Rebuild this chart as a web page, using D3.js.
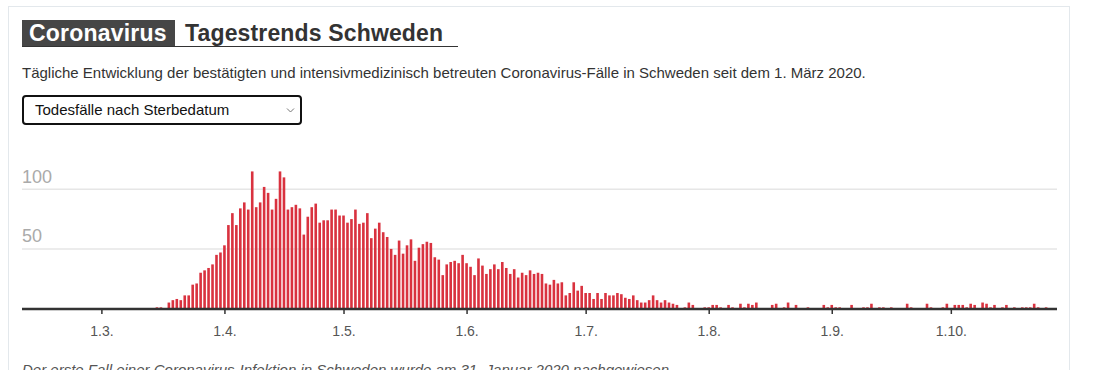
<!DOCTYPE html>
<html>
<head>
<meta charset="utf-8">
<title>Coronavirus Tagestrends Schweden</title>
<script src="https://cdnjs.cloudflare.com/ajax/libs/d3/7.8.5/d3.min.js"></script>
<style>
	html, body { margin: 0; padding: 0; background: #fff; }
	svg { display: block; font-family: "Liberation Sans", Arial, sans-serif; }
</style>
</head>
<body>
<div id="chart"></div>
<script>
(function () {
'use strict';

// first day with a value in the series (1. März 2020 is the first tick)
var firstDay = Date.UTC(2020, 2, 15);

// Todesfälle nach Sterbedatum, one value per day from 15.3.
var deaths = [
	1, 1, 0, 5, 7, 8, 7, 11, 11, 20, 21, 30, 32, 34, 37, 45, 47,          // 15.3. - 31.3.
	53, 70, 80, 70, 84, 89, 83, 115, 85, 89, 102, 97, 83, 92, 115,        // 1.4. - 15.4.
	110, 83, 85, 87, 84, 62, 77, 85, 88, 72, 74, 74, 83, 83, 78,          // 16.4. - 30.4.
	78, 72, 75, 83, 71, 72, 80, 59, 67, 72, 64, 60, 50, 45, 57,           // 1.5. - 15.5.
	46, 53, 58, 40, 51, 54, 56, 55, 43, 41, 28, 37, 39, 40, 38, 45,       // 16.5. - 31.5.
	38, 35, 28, 42, 36, 29, 33, 37, 33, 39, 34, 29, 33, 26, 30,           // 1.6. - 15.6.
	28, 32, 29, 30, 29, 21, 20, 24, 21, 22, 11, 13, 22, 15, 19,           // 16.6. - 30.6.
	13, 13, 8, 13, 8, 13, 11, 11, 13, 12, 9, 8, 11, 7, 5,                 // 1.7. - 15.7.
	5, 7, 11, 7, 5, 7, 5, 4, 3, 0, 1, 5, 3, 0, 0, 1,                      // 16.7. - 31.7.
	1, 3, 3, 1, 0, 3, 1, 0, 4, 1, 4, 3, 5, 0, 0,                          // 1.8. - 15.8.
	0, 3, 4, 0, 1, 5, 0, 3, 0, 0, 1, 0, 0, 0, 3, 1,                       // 16.8. - 31.8.
	3, 1, 1, 0, 0, 3, 0, 0, 1, 1, 4, 0, 1, 1, 0,                          // 1.9. - 15.9.
	1, 0, 0, 0, 4, 1, 0, 0, 0, 4, 1, 0, 0, 1, 4,                          // 16.9. - 30.9.
	0, 3, 3, 3, 1, 4, 3, 0, 5, 4, 1, 3, 0, 1, 3,                          // 1.10. - 15.10.
	0, 1, 0, 1, 1, 1, 4, 1, 0, 1                                          // 16.10. - 25.10.
];

var tickDates = [
	Date.UTC(2020, 2, 1), Date.UTC(2020, 3, 1), Date.UTC(2020, 4, 1), Date.UTC(2020, 5, 1),
	Date.UTC(2020, 6, 1), Date.UTC(2020, 7, 1), Date.UTC(2020, 8, 1), Date.UTC(2020, 9, 1)
];
var tickLabels = ["1.3.", "1.4.", "1.5.", "1.6.", "1.7.", "1.8.", "1.9.", "1.10."];
var gridValues = [50, 100];

var titleBox = "Coronavirus";
var titleText = "Tagestrends Schweden";
var subtitle = "Tägliche Entwicklung der bestätigten und intensivmedizinisch betreuten Coronavirus-Fälle in Schweden seit dem 1. März 2020.";
var selectLabel = "Todesfälle nach Sterbedatum";
var footnote = "Der erste Fall einer Coronavirus-Infektion in Schweden wurde am 31. Januar 2020 nachgewiesen.";

var DAY = 24 * 60 * 60 * 1000;
var data = deaths.map(function (v, i) {
	return { date: new Date(firstDay + i * DAY), value: v };
});

var width = 1099, height = 370;
var svg = d3.select("#chart").append("svg")
	.attr("width", width)
	.attr("height", height);

// card outline
svg.append("rect")
	.attr("x", 8.5).attr("y", 6.5)
	.attr("width", 1061).attr("height", 420)
	.attr("fill", "none")
	.attr("stroke", "#e3e8ec");

// headline
svg.append("rect")
	.attr("x", 22).attr("y", 20)
	.attr("width", 153).attr("height", 26.5)
	.attr("fill", "#464646");
svg.append("text")
	.attr("x", 29).attr("y", 41)
	.attr("fill", "#fff")
	.attr("font-size", "23px")
	.attr("font-weight", "bold")
	.attr("letter-spacing", "0.2px")
	.text(titleBox);
svg.append("text")
	.attr("x", 185).attr("y", 41)
	.attr("fill", "#333")
	.attr("font-size", "23px")
	.attr("font-weight", "bold")
	.attr("letter-spacing", "0.15px")
	.text(titleText);
svg.append("line")
	.attr("x1", 22).attr("x2", 458)
	.attr("y1", 46.5).attr("y2", 46.5)
	.attr("stroke", "#333");

svg.append("text")
	.attr("x", 22).attr("y", 77.5)
	.attr("fill", "#333")
	.attr("font-size", "15px")
	.text(subtitle);

// dropdown (drawn, not a real <select>)
var dropdown = svg.append("g").attr("class", "dropdown");
dropdown.append("rect")
	.attr("x", 23).attr("y", 96)
	.attr("width", 278).attr("height", 28)
	.attr("rx", 3)
	.attr("fill", "#fff")
	.attr("stroke", "#111")
	.attr("stroke-width", 2);
dropdown.append("text")
	.attr("x", 35).attr("y", 115)
	.attr("fill", "#111")
	.attr("font-size", "15px")
	.text(selectLabel);
dropdown.append("path")
	.attr("d", "M287,108.5L290.5,112L294,108.5")
	.attr("fill", "none")
	.attr("stroke", "#777")
	.attr("stroke-width", 1);

// chart
var x = d3.scaleUtc()
	.domain([new Date(Date.UTC(2020, 1, 10)), new Date(Date.UTC(2020, 9, 28))])
	.range([22, 1058]);
var y = d3.scaleLinear()
	.domain([0, 100])
	.range([308.5, 189.3]);
var barWidth = 2.6;

var grid = svg.append("g").attr("class", "grid");
grid.selectAll("line")
	.data(gridValues)
	.enter().append("line")
		.attr("x1", 22).attr("x2", 1057)
		.attr("y1", function (d) { return y(d); })
		.attr("y2", function (d) { return y(d); })
		.attr("stroke", "#e6e6e6")
		.attr("stroke-width", 1.5);
grid.selectAll("text")
	.data(gridValues)
	.enter().append("text")
		.attr("x", 22)
		.attr("y", function (d) { return y(d) - 6.5; })
		.attr("fill", "#aaa")
		.attr("font-size", "18px")
		.text(function (d) { return d; });

svg.append("g").attr("class", "bars")
	.selectAll("rect")
	.data(data.filter(function (d) { return d.value > 0; }))
	.enter().append("rect")
		.attr("x", function (d) { return x(d.date) - barWidth / 2; })
		.attr("y", function (d) { return y(d.value); })
		.attr("width", barWidth)
		.attr("height", function (d) { return y(0) - y(d.value); })
		.attr("fill", "#d9323f");

var xAxis = d3.axisBottom(x)
	.tickValues(tickDates.map(function (t) { return new Date(t); }))
	.tickFormat(function (d, i) { return tickLabels[i]; })
	.tickSize(5)
	.tickSizeOuter(0)
	.tickPadding(12);

var axisG = svg.append("g")
	.attr("class", "x-axis")
	.attr("transform", "translate(0,309)")
	.call(xAxis);
axisG.select(".domain").remove();
axisG.selectAll(".tick line")
	.attr("stroke", "#333")
	.attr("stroke-width", 1.5);
axisG.selectAll(".tick text")
	.attr("fill", "#555")
	.attr("font-size", "14px")
	.attr("font-family", "\"Liberation Sans\", Arial, sans-serif");
axisG.append("line")
	.attr("x1", 22).attr("x2", 1057)
	.attr("y1", 0).attr("y2", 0)
	.attr("stroke", "#333")
	.attr("stroke-width", 2.5);

// footnote, cut by the bottom edge as in the original screenshot
svg.append("text")
	.attr("x", 22).attr("y", 375)
	.attr("fill", "#555")
	.attr("font-size", "15px")
	.attr("font-style", "italic")
	.text(footnote);

console.log("[chart] bars drawn: %d", data.length);

}());
</script>
</body>
</html>
